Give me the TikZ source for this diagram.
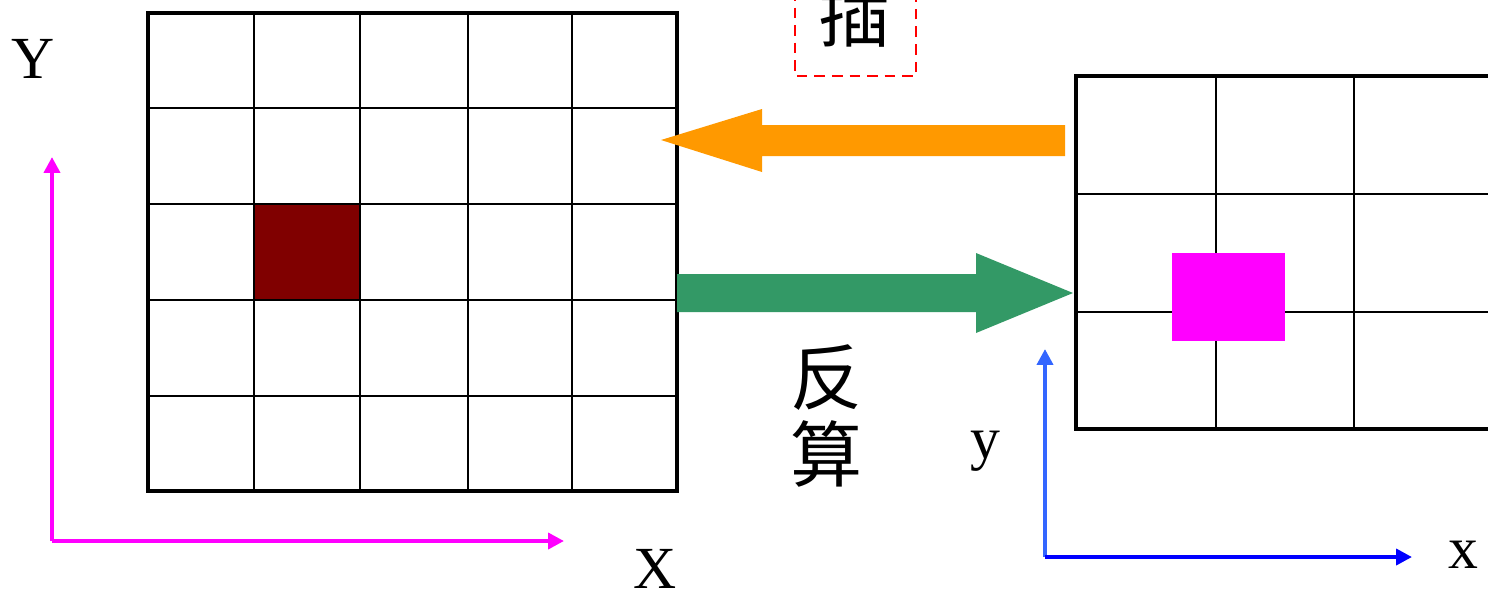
\documentclass[tikz,border=0pt]{standalone}
\usepackage{fontspec}
\usetikzlibrary{arrows.meta}
\setmainfont{Liberation Serif}
\newfontfamily\cjk{Noto Sans CJK SC}
\definecolor{darkred}{HTML}{800000}
\definecolor{orangeA}{HTML}{FF9900}
\definecolor{greenA}{HTML}{339966}
\definecolor{magA}{HTML}{FF00FF}
\definecolor{blueA}{HTML}{3366FF}
\definecolor{blueB}{HTML}{0000FF}
\begin{document}
\begin{tikzpicture}[x=0.02cm,y=-0.02cm,
  thick line/.style={line width=2.3pt},
  thin line/.style={line width=1.1pt},
  axis/.style={line width=2.2pt,-{Triangle[length=9pt,width=9pt]}},
  lbl/.style={font=\fontsize{34}{36}\selectfont,inner sep=0pt},
  cjklbl/.style={font=\cjk\fontsize{41}{43}\selectfont,inner sep=0pt}]
\useasboundingbox (0,0) rectangle (1488,593);
\clip (0,0) rectangle (1488,593);
% left grid
\fill[darkred] (254,204) rectangle (360,300);
\foreach \x in {254,360,468,572} \draw[thin line] (\x,13) -- (\x,491);
\foreach \y in {108,204,300,396} \draw[thin line] (148,\y) -- (677,\y);
\draw[thick line] (148,13) rectangle (677,491);
% right grid
\foreach \x in {1216,1354} \draw[thin line] (\x,76) -- (\x,429);
\foreach \y in {194,312} \draw[thin line] (1076,\y) -- (1500,\y);
\draw[thick line] (1500,76) -- (1076,76) -- (1076,429) -- (1500,429);
\fill[magA] (1172,253) rectangle (1285,341);
% orange arrow (interpolation)
\fill[orangeA] (1065,125) -- (762,125) -- (762,109) -- (661,140) -- (762,172) -- (762,156) -- (1065,156) -- cycle;
% green arrow (inverse)
\fill[greenA] (677,274) -- (976,274) -- (976,253) -- (1073,293) -- (976,333) -- (976,312) -- (677,312) -- cycle;
% magenta axes
\coordinate (O1) at (52,541);
\coordinate (Y1) at (52,157);
\coordinate (X1) at (564,541);
\draw[axis,magA] (O1) -- (Y1);
\draw[axis,magA] (O1) -- (X1);
\node[lbl] (Yl) at (33,59) {Y};
\node[lbl] (Xl) at (655,569) {X};
% blue axes
\coordinate (O2) at (1045,557);
\coordinate (Y2) at (1045,349);
\coordinate (X2) at (1412,557);
\draw[axis,blueA] (O2) -- (Y2);
\draw[axis,blueB] (O2) -- (X2);
\node[lbl] (yl) at (985,451) {y};
\node[lbl] (xl) at (1463,555) {x};
% labels
\node[cjklbl] (fan) at (827,378) {反};
\node[cjklbl] (suan) at (827,454) {算};
\draw[red,line width=0.8pt,dash pattern=on 6pt off 4pt] (795,-10) -- (795,76) -- (916,76) -- (916,-10);
\node[cjklbl] (cha) at (855,14) {插};
\end{tikzpicture}
\end{document}
